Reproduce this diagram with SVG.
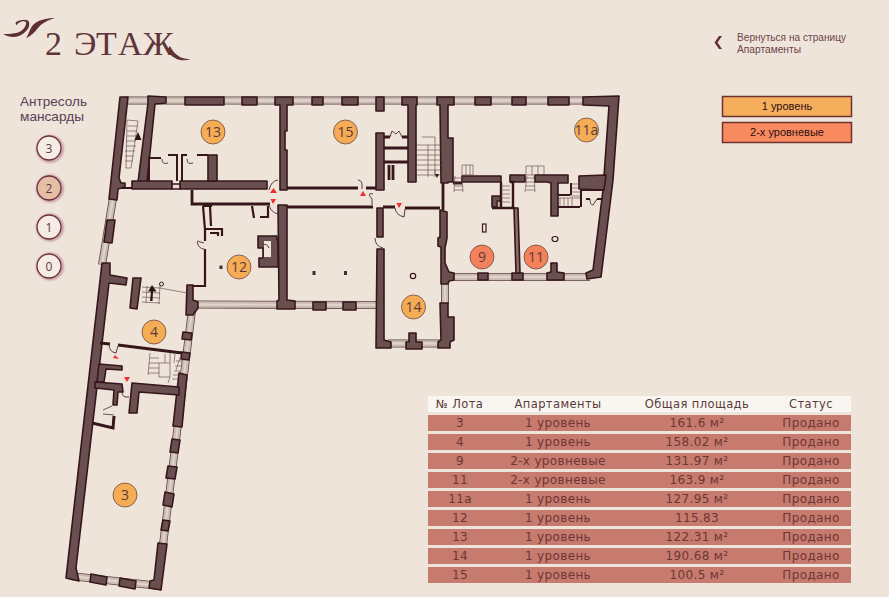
<svg xmlns="http://www.w3.org/2000/svg" width="889" height="597" viewBox="0 0 889 597">
<style>
.w{fill:#6a4f50;stroke:#36161a;stroke-width:1.600;stroke-linejoin:round}
.t{fill:none;stroke:#36161a;stroke-width:2.800}
.th{fill:none;stroke:#4a2a2c;stroke-width:.8}
.d{fill:none;stroke:#4a2a2c;stroke-width:.9}
.s{fill:none;stroke:#5a4040;stroke-width:.6}
.r{fill:#ee2d30}
.a{fill:#f5ac55;stroke:#6a4a45;stroke-width:.8}
.b{fill:#f3815a;stroke:#6a4a45;stroke-width:.8}
.n{font:14px "Open Sans",sans-serif;fill:#5a3a3a;text-anchor:middle}
.c{fill:#f5ece6;stroke:#6f2e3f;stroke-width:1.300}
.m{font:12px "Open Sans",sans-serif;fill:#5d3a42;text-anchor:middle}
.row{fill:#c67b6e}
.h text{font:11.500px "DejaVu Sans",sans-serif;letter-spacing:.4px;text-anchor:middle;fill:#5a3a3a}
.tb text{font:12px "DejaVu Sans",sans-serif;letter-spacing:.35px;text-anchor:middle;fill:#6e3634}
.lg{stroke:#6e3030;stroke-width:1.500}
.lt{font:11px "Liberation Sans",sans-serif;fill:#2a1010;text-anchor:middle}
.bk{font:10.400px "Liberation Sans",sans-serif;fill:#6b4548}
.lv{font:13px "Liberation Sans",sans-serif;fill:#5a4056}
</style>
<defs>
<path id="wins" d="M125 100.500L618 100.500M113 198L102 265M192 310L163 545M70 576L160 586M195 304.500L378 305M388 343.500L440 343.500M453 277L590 277M445 284L445 304"/>
<filter id="gl" x="-30%" y="-30%" width="160%" height="160%"><feGaussianBlur stdDeviation="1.200"/></filter>
</defs>
<rect width="889" height="597" fill="#efe4da"/>

<g id="logo">
<path d="M55 18C46 18 38 20 33 25C30 28 29 34 26 38C31 36 35 32 38 28C42 23 48 20 55 18Z" fill="#5e3036"/>
<path d="M3 34C10 38 18 38 24 33C28 30 30 26 29 22C28 19 22 19 16 22C15 24 16 25 17 25C18 22 24 20 26 22C27 26 22 32 16 33C11 34 7 34 3 34Z" fill="#5e3036"/>
<text font-family="Liberation Serif,serif" font-size="34" fill="#5f353a"><tspan x="45" y="55">2</tspan><tspan x="74 96 118 143" y="55">ЭТАЖ</tspan></text>
<path d="M170 46C174 54 181 60 191 59C182 62 173 60 167 50Z" fill="#5f353a"/>
</g>

<g id="back-link">
<path d="M722 36L717.500 42.500L722 49L719 49L714.500 42.500L719 36Z" fill="#5e3036"/>
<text class="bk" x="737" y="41" textLength="109" lengthAdjust="spacingAndGlyphs">Вернуться на страницу</text>
<text class="bk" x="737" y="53" textLength="64" lengthAdjust="spacingAndGlyphs">Апартаменты</text>
</g>

<g id="legend">
<rect class="lg" x="722.500" y="96.500" width="129" height="20" fill="#f5ae5c"/><text class="lt" x="787" y="110">1 уровень</text>
<rect class="lg" x="722.500" y="122.500" width="129" height="20" fill="#f98a5f"/><text class="lt" x="787" y="136">2-х уровневые</text>
</g>

<g id="levels">
<text class="lv" x="20" y="106" textLength="67" lengthAdjust="spacingAndGlyphs">Антресоль</text>
<text class="lv" x="20" y="121" textLength="64" lengthAdjust="spacingAndGlyphs">мансарды</text>
<g fill="none" stroke="#8a3f55" stroke-opacity=".6" stroke-width="2" filter="url(#gl)"><circle cx="50" cy="149" r="12.500"/><circle cx="50" cy="188.500" r="12.500"/><circle cx="50" cy="227.500" r="12.500"/><circle cx="50" cy="266.500" r="12.500"/></g>
<g id="level-3"><circle class="c" cx="49" cy="148" r="12"/><text class="m" x="49" y="152.500">3</text></g>
<g id="level-2"><circle class="c" style="fill:#e4bfa6" cx="49" cy="188" r="12"/><text class="m" x="49" y="192.500">2</text></g>
<g id="level-1"><circle class="c" cx="49" cy="227" r="12"/><text class="m" x="49" y="231.500">1</text></g>
<g id="level-0"><circle class="c" cx="49" cy="266" r="12"/><text class="m" x="49" y="270.500">0</text></g>
</g>

<g id="plan">
<g id="windows" fill="none">
<use href="#wins" stroke="#5f4546" stroke-width="8"/>
<use href="#wins" stroke="#cbbdb5" stroke-width="6.400"/>
<use href="#wins" stroke="#e2d6cc" stroke-width="1.800"/>
</g>
<g id="walls">
<path class="t" d="M117 188H132" style="stroke-width:2"/>
<path class="w" d="M120 97L128 97L119 178L121 183H125V187L118 189L117 200L109 199Z"/>
<path class="w" d="M148 96L166 97L166 103L155 104L147 182L138 182L148 103Z"/>
<path class="w" d="M132 181H172V189H132Z"/>
<path class="w" d="M180 181H267V189H180Z"/>
<path class="w" d="M208 155H217V181H208Z"/>
<path class="w" d="M185 97H224V105H185ZM242 97H257V105H242Z"/>
<path class="w" d="M275 97H293V105H287V131H285V150H287V190H280V105H275Z"/>
<path class="w" d="M312 97H323V105H312ZM342 97H358V105H342ZM376 97H384V111H376Z"/>
<path class="w" d="M402 97H417V105H416V182H408V105H402Z"/>
<path class="w" d="M437 97H454V105H448V138H453V182H448V183H441L440 105H437Z"/>
<path class="w" d="M475 97H491V105H475ZM512 97H526V105H512ZM548 97H569V105H548Z"/>
<path class="w" d="M583 97L619 96L613 180L601 277L587 279L586 273L593 270L603 190L609 106L583 105Z"/>
<path class="w" d="M376 133H384V190H376Z"/>
<path class="w" d="M278 205H287V300L295 301V309H277V301L279 300Z"/>
<path class="w" d="M377 208H383V237H377Z"/>
<path class="w" d="M377 249H384V340L391 342V348H376Z"/>
<path class="w" d="M313 302H326V310H313ZM343 302H356V310H343Z"/>
<path class="w" d="M409 333H416V342H422V349H406V342H409Z"/>
<path class="w" d="M440 303H448V317H454V340L450 342V348H438V342L441 340Z"/>
<path class="w" d="M440 210L447 212V238L445 248V263L449 272L454 273V280L449 281L448 284H441V247L438 246V238L440 237Z"/>
<path class="w" d="M478 273H488V280H478ZM512 273H523V280H512Z"/>
<path class="w" d="M551 263H557V272L564 273V280H547V273L551 272Z"/>
<path class="w" d="M462 176H501V182H462ZM510 175H525V182H510Z"/>
<path class="w" d="M535 175H568V183H558V216H551V183L547 182H535Z"/>
<path class="w" d="M579 176L606 175L604 190L579 189Z"/>
<path class="w" d="M492 196H501V201H497V207H492Z"/>
<path class="w" d="M514 208H518L520 273H516Z" style="fill:#8a6f6d"/>
<path class="w" d="M258 236H277V240H278V267H259V258H263V248H258Z"/>
<path d="M264 241H271V257H264Z" fill="#efe4da"/>
<path class="w" d="M102 263L110 263L110 275L127 278L126 285L109 283L76 568L79 581L66 578Z"/>
<path class="w" d="M107 220L115 220L112 243L104 242Z"/>
<path class="w" d="M187 285H193V300L198 302V308L193 315H186Z"/>
<path class="w" d="M133 278H141L137 309L130 308Z"/>
<path class="w" d="M183 332L192 333L191 340L182 339ZM182 352L190 353L189 360L181 359Z"/>
<path class="w" d="M172 439L180 440L178 453L170 452ZM168 466L177 467L175 479L166 478ZM165 492L174 494L172 507L163 505ZM163 520L170 521L168 531L161 530Z"/>
<path class="w" d="M158 543L167 544L161 590L149 588L150 581L154 580Z"/>
<path class="w" d="M179 373L187 375L182 427L173 426Z"/>
<path class="w" d="M132 383L179 387V395L139 392L137 413L129 413Z"/>
<path class="w" d="M99 364L122 366V370L106 369L104 382L97 382Z"/>
<path class="w" d="M95 382L122 384L123 392H118L117 405L113 405L114 390L95 388Z"/>
<path class="w" d="M91 574L107 577L106 585L90 582ZM120 578L136 581L135 589L119 586Z"/>
<path class="t" d="M192 190V204H270"/>
<path class="t" d="M287 188H358M366 188H376M287 207H373M383 207H395M405 208H440M443 183V210M453 183H462"/>
<path class="t" d="M384 148H408M384 162H408M384 137H390M402 137H408M389 165V180M393 165V180"/>
<path class="t" d="M492 208H515M501 182V207M510 182H513V207" style="stroke-width:2.400"/>
<path class="t" d="M558 195H570M571 183V195M558 207H580M581 190V207M581 190H604M586 199H590M597 199H602" style="stroke-width:2"/>
<path class="t" d="M148 158H161M168 155H177V181M182 181V155H187M197 155H208M149 159V181" style="stroke-width:2"/>
<path class="t" d="M203 206L205 230V241M210 206L211 226M205 229H222V236M210 233H218V236M205 249L205 286H193M203 206H212M252 206L254 218M260 217H268V206" style="stroke-width:2.200"/>
<path class="t" d="M100 343L110 344M118 345L182 353" style="stroke-width:3"/>
<path class="t" d="M92 423L113 428L114 416" style="stroke-width:3"/>
<path class="th" d="M103 410L112 406M103 414L114 415"/>
<path class="w" d="M172 184H180V189H172Z" style="fill:#e7dbd0"/>
</g>
<g id="stairs">
<path class="s" d="M127 120L138 121L131 168L126 168ZM128 126H138M127 131H137M127 136H137M126 141H136M126 146H136M125 151H135M125 156H134M125 161H133"/>
<path class="s" d="M416 145H442M416 150H442M416 155H442M416 160H442M416 165H442M416 170H442M416 175H442M422 137H435V177M428 145V177"/>
<path class="s" d="M462 165H473V175H462ZM466 165V175M470 165V175M454 178H463M454 182H463M454 186H463M454 190H463M455 176L454 192M462 176L463 192"/>
<path class="s" d="M526 166H544V175H526ZM532 166V175M538 166V175M526 178H535M526 182H535M526 186H535M526 190H535M527 176L525 192M534 176L535 192"/>
<path class="s" d="M501 186H510M501 190H510M501 194H510M501 198H510M501 202H510M497 201V207M499 201V207"/>
<path class="s" d="M570 184H580M570 188H580M570 192H580M570 196H580M558 198H580M560 198V206M564 198V206M568 198V206M572 198V206"/>
<path class="s" d="M142 287L160 288M142 292L160 293M142 297L160 298M142 302L160 303M160 288L187 293M147 286L146 303M160 285L159 304"/>
<path class="s" d="M150 353L148 375M150 358H159M149 363H159M149 368H159M148 373H159M159 363H170V377H159ZM170 353L170 363M175 354L174 363M165 354V363M170 377L168 383M176 370L181 355M172 379H178M173 375H179M174 371H180M175 366H181M176 361H182"/>
<path d="M152 285L148 291.500H151L150 301H152.500L153 291.500H156.500Z" fill="#2e1518"/>
<path d="M138 132L134.500 140H141.500Z" fill="#2e1518"/>
<path d="M435 174H439L437 178Z" fill="#2e1518"/>
<path d="M435 170V174" class="s"/>
</g>
<g id="doors">
<path class="d" d="M269 190Q271 181 278 180M269 204Q270 212 278 214"/>
<path class="d" d="M358 180Q363 180 362 189M373 194Q366 192 372 199L372 205"/>
<path class="d" d="M395 208Q396 215 404 217L405 209M375 238Q375 246 383 248"/>
<path class="d" d="M197 242Q199 249 204 249M197 241L204 243M263 245Q267 243 269 248"/>
<path class="d" d="M109 344Q109 352 116 353L118 346"/>
<path class="d" d="M122 392Q122 398 129 397"/>
<path class="d" d="M390 137L392 131L396 134L399 131L402 137"/>
<path class="d" d="M590 199Q590 205 593 205L597 199"/>
<path class="d" d="M162 159Q162 165 168 163M187 159Q187 165 193 163"/>
</g>
<g id="columns" fill="#4a2a2c">
<rect x="482.500" y="224" width="3.500" height="8" fill="none" stroke="#3b1a1e" stroke-width="1.200"/>
<ellipse cx="555" cy="239" rx="3" ry="2.500" fill="none" stroke="#3b1a1e" stroke-width="1.200"/>
<circle cx="413" cy="276" r="2.700" fill="none" stroke="#3b1a1e" stroke-width="1.200"/>
<circle cx="161.500" cy="284" r="2" fill="none" stroke="#3b1a1e"/>
<rect x="312.500" y="271" width="3" height="4"/><rect x="344" y="271" width="3" height="4"/><rect x="219.500" y="265.500" width="3" height="3.500"/>
</g>
<g id="markers">
<path class="r" d="M273.500 188L277 193H270Z"/><path class="r" d="M270.500 199H276L273 204Z"/>
<path class="r" d="M363 191L366 196H360Z"/><path class="r" d="M396.500 203H402L399 208Z"/>
<path class="r" d="M115 355L119 359L113 358Z"/><path class="r" d="M124 377H130L127 382Z"/>
</g>
</g>

<g id="lot-13"><circle class="a" cx="213" cy="132" r="12"/><text class="n" x="213" y="137">13</text></g>
<g id="lot-15"><circle class="a" cx="345.500" cy="132" r="12"/><text class="n" x="345.500" y="137">15</text></g>
<g id="lot-11a"><circle class="a" cx="586.500" cy="130" r="12"/><text class="n" x="586.500" y="135">11а</text></g>
<g id="lot-9"><circle class="b" cx="482" cy="257" r="12"/><text class="n" x="482" y="262">9</text></g>
<g id="lot-11"><circle class="b" cx="536" cy="257" r="12"/><text class="n" x="536" y="262">11</text></g>
<g id="lot-12"><circle class="a" cx="239" cy="267" r="12"/><text class="n" x="239" y="272">12</text></g>
<g id="lot-14"><circle class="a" cx="413.500" cy="307" r="12"/><text class="n" x="413.500" y="312">14</text></g>
<g id="lot-4"><circle class="a" cx="154" cy="332" r="12"/><text class="n" x="154" y="337">4</text></g>
<g id="lot-3"><circle class="a" cx="125" cy="495" r="12"/><text class="n" x="125" y="500">3</text></g>

<g id="table">
<g class="h"><rect x="428" y="396" width="423" height="16" fill="#f9f5f0"/>
<text x="459.500" y="408">№ Лота</text><text x="558" y="408">Апартаменты</text><text x="697" y="408">Общая площадь</text><text x="811" y="408">Статус</text></g>
<g class="tb">
<rect class="row" x="428" y="415" width="423" height="16"/><text x="460" y="427">3</text><text x="558" y="427">1 уровень</text><text x="697" y="427">161.6 м²</text><text x="811" y="427">Продано</text>
<rect class="row" x="428" y="434" width="423" height="16"/><text x="460" y="446">4</text><text x="558" y="446">1 уровень</text><text x="697" y="446">158.02 м²</text><text x="811" y="446">Продано</text>
<rect class="row" x="428" y="453" width="423" height="16"/><text x="460" y="465">9</text><text x="558" y="465">2-х уровневые</text><text x="697" y="465">131.97 м²</text><text x="811" y="465">Продано</text>
<rect class="row" x="428" y="472" width="423" height="16"/><text x="460" y="484">11</text><text x="558" y="484">2-х уровневые</text><text x="697" y="484">163.9 м²</text><text x="811" y="484">Продано</text>
<rect class="row" x="428" y="491" width="423" height="16"/><text x="460" y="503">11а</text><text x="558" y="503">1 уровень</text><text x="697" y="503">127.95 м²</text><text x="811" y="503">Продано</text>
<rect class="row" x="428" y="510" width="423" height="16"/><text x="460" y="522">12</text><text x="558" y="522">1 уровень</text><text x="697" y="522">115.83</text><text x="811" y="522">Продано</text>
<rect class="row" x="428" y="529" width="423" height="16"/><text x="460" y="541">13</text><text x="558" y="541">1 уровень</text><text x="697" y="541">122.31 м²</text><text x="811" y="541">Продано</text>
<rect class="row" x="428" y="548" width="423" height="16"/><text x="460" y="560">14</text><text x="558" y="560">1 уровень</text><text x="697" y="560">190.68 м²</text><text x="811" y="560">Продано</text>
<rect class="row" x="428" y="567" width="423" height="16"/><text x="460" y="579">15</text><text x="558" y="579">1 уровень</text><text x="697" y="579">100.5 м²</text><text x="811" y="579">Продано</text>
</g>
</g>
</svg>
